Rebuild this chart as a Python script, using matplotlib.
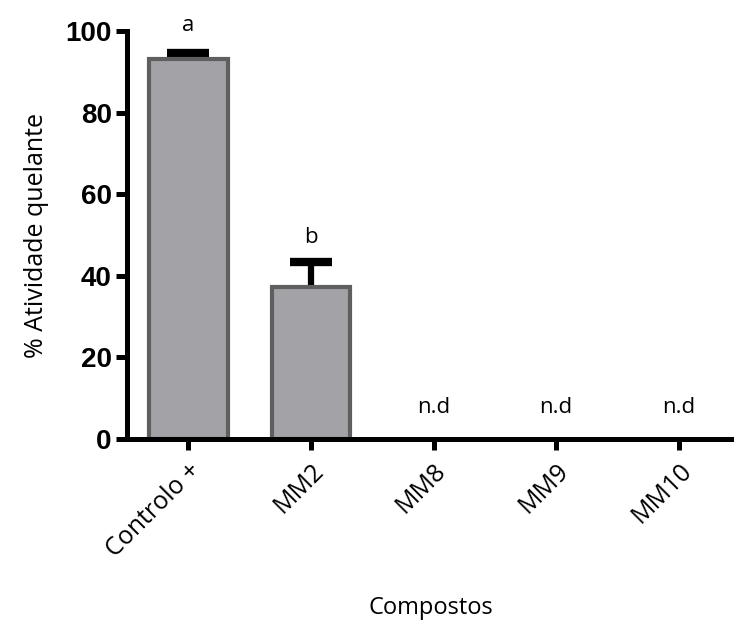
import matplotlib
matplotlib.use('Agg')
import matplotlib.pyplot as plt

compostos = ['Controlo +', 'MM2', 'MM8', 'MM9', 'MM10']
atividade = [93.1, 37.3, 0, 0, 0]
erro = [1.5, 6.1, 0, 0, 0]
letras = ['a', 'b', 'n.d', 'n.d', 'n.d']
pos_letras = [101.5, 49.5, 7.8, 7.8, 7.8]

fig = plt.figure(figsize=(7.34, 6.26), dpi=100)
ax = fig.add_axes([0.173, 0.299, 0.827, 0.651])

x = list(range(len(compostos)))
ax.bar(x[:2], atividade[:2], width=0.64, color='#a2a2a7', edgecolor='#5f5f5f', linewidth=3, zorder=2)
eb = ax.errorbar(x[:2], atividade[:2], yerr=[[0, 0], erro[:2]], fmt='none', ecolor='black',
                 elinewidth=4.5, capsize=15, capthick=6, zorder=1)
eb[1][0].set_visible(False)  # only the upper cap

for i, t in enumerate(letras):
    ax.text(x[i], pos_letras[i], t, ha='center', va='center', fontsize=16,
            family='Open Sans', clip_on=False)

ax.set_xlim(-0.5, 4.45)
ax.set_ylim(0, 100)
ax.set_yticks([0, 20, 40, 60, 80, 100])
ax.set_xticks(x)
ax.set_xticklabels(compostos, rotation=45, ha='right', rotation_mode='anchor',
                   family='Open Sans', fontsize=18)
for lab in ax.get_yticklabels():
    lab.set_family('Liberation Sans')
    lab.set_fontweight('bold')
    lab.set_fontsize(20)

for s in ['top', 'right']:
    ax.spines[s].set_visible(False)
for s in ['left', 'bottom']:
    ax.spines[s].set_linewidth(3.6)
ax.tick_params(width=3.6, length=8, pad=3)
ax.tick_params(axis='x', pad=6)

ax.set_ylabel('% Atividade quelante', family='Open Sans', fontsize=18, labelpad=12)
ax.set_xlabel('Compostos', family='Open Sans', fontsize=17, labelpad=24)

fig.savefig('out.png', dpi=100)
